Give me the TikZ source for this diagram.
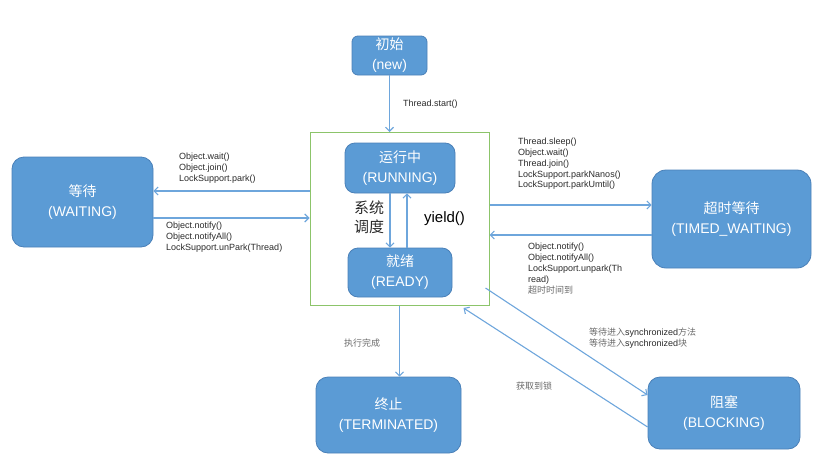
\documentclass[tikz,border=0pt]{standalone}
\usepackage{fontspec}
\setmainfont{Liberation Sans}
\newfontfamily\cjk{Noto Sans CJK SC}
\usetikzlibrary{arrows.meta,calc}
\definecolor{boxblue}{HTML}{5B9BD5}
\definecolor{boxedge}{HTML}{4A80B8}
\definecolor{arrowblue}{HTML}{6EA6DC}
\definecolor{framegreen}{HTML}{8CC46A}
\definecolor{labelgray}{HTML}{2A2A2A}
\definecolor{zhgray}{HTML}{6A6A6A}
\newcommand\zhg[1]{{\cjk\color{zhgray}#1}}
\begin{document}
\begin{tikzpicture}[x=1pt,y=-1pt,
  state/.style={draw=boxedge, line width=0.8pt, fill=boxblue, rounded corners=10pt,
    text=white, align=center, font=\fontsize{14}{20}\selectfont, inner sep=0pt},
  arr/.style={draw=arrowblue, line width=1.1pt, -{Straight Barb[length=4pt,width=8pt]}},
  lbl/.style={font=\fontsize{9}{10.8}\selectfont, text=labelgray, align=left, inner sep=0pt, anchor=west},
  zhlbl/.style={font=\cjk\fontsize{9}{10.8}\selectfont, text=zhgray, align=left, inner sep=0pt, anchor=west}
]
\useasboundingbox (0,0) rectangle (832,466);
% frame
\node[draw=framegreen, line width=1pt, minimum width=179, minimum height=173, inner sep=0pt] (green) at (399.5,219) {};
% states
\node[state, minimum width=75, minimum height=39, rounded corners=6pt] (new) at (389.5,55.5) {{\cjk 初始}\\(new)};
\node[state, minimum width=110, minimum height=50] (running) at (400,168) {{\cjk 运行中}\\(RUNNING)};
\node[state, minimum width=104, minimum height=49] (ready) at (400,272.5) {{\cjk 就绪}\\(READY)};
\node[state, minimum width=141, minimum height=90, rounded corners=12pt] (waiting) at (82.5,202) {{\cjk 等待}\\(WAITING)};
\node[state, minimum width=159, minimum height=98, rounded corners=14pt] (timed) at (731.5,219) {{\cjk 超时等待}\\(TIMED\_WAITING)};
\node[state, minimum width=145, minimum height=76, rounded corners=12pt] (terminated) at (388.5,415) {{\cjk 终止}\\(TERMINATED)};
\node[state, minimum width=152, minimum height=72, rounded corners=12pt] (blocking) at (724,413) {{\cjk 阻塞}\\(BLOCKING)};
% connectors
\draw[arr] (new.south) -- (new.south |- green.north);
\draw[arr] (green.west |- 0,191) -- (waiting.east |- 0,191);
\draw[arr] (waiting.east |- 0,218) -- (green.west |- 0,218);
\draw[arr] (running.south -| 390,0) -- (ready.north -| 390,0);
\draw[arr] (ready.north -| 407,0) -- (running.south -| 407,0);
\draw[arr] (green.east |- 0,205) -- (timed.west |- 0,205);
\draw[arr] (timed.west |- 0,235) -- (green.east |- 0,235);
\draw[arr] (green.south) -- (green.south |- terminated.north);
\coordinate (gbl) at ($(green.south east)+(-4,-18)$);
\coordinate (gin) at ($(green.south east)+(-26,2)$);
\draw[arr] (gbl) -- (blocking.west |- 0,395);
\draw[arr] (blocking.west |- 0,427) -- (gin);
% labels
\node[lbl] (tstart) at (403,104) {Thread.start()};
\node[lbl] (wlbl1) at (179,168) {Object.wait()\\Object.join()\\LockSupport.park()};
\node[lbl] (wlbl2) at (166,237) {Object.notify()\\Object.notifyAll()\\LockSupport.unPark(Thread)};
\node[lbl] (tlbl1) at (518,164) {Thread.sleep()\\Object.wait()\\Thread.join()\\LockSupport.parkNanos()\\LockSupport.parkUmtil()};
\node[lbl] (tlbl2) at (528,268.5) {Object.notify()\\Object.notifyAll()\\LockSupport.unpark(Th\\read)\\\zhg{超时时间到}};
\node[font=\cjk\fontsize{15}{19}\selectfont, text=labelgray, align=center, inner sep=0pt] (sched) at (369,217.5) {系统\\调度};
\node[font=\fontsize{15}{18}\selectfont, text=black, inner sep=0pt] (yield) at (444.5,219) {yield()};
\node[zhlbl] (done) at (344,343) {执行完成};
\node[lbl] (sync) at (589,338) {\zhg{等待进入}synchronized\zhg{方法}\\\zhg{等待进入}synchronized\zhg{块}};
\node[zhlbl] (lock) at (516,386) {获取到锁};
\end{tikzpicture}
\end{document}
